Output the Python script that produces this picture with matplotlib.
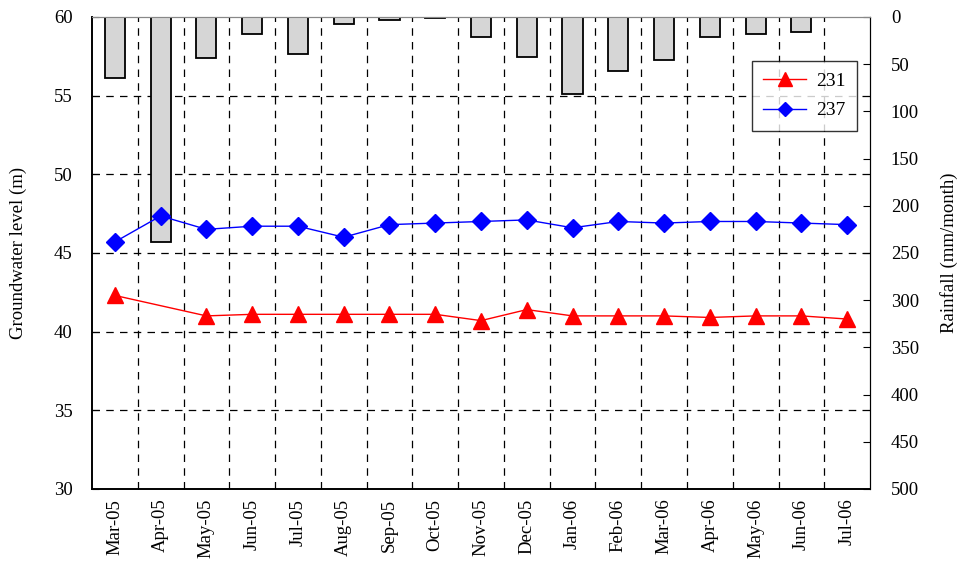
import matplotlib
matplotlib.use("Agg")
import matplotlib.pyplot as plt
from matplotlib.ticker import FixedLocator, MultipleLocator
import numpy as np

plt.rcParams["font.family"] = ["Liberation Serif", "DejaVu Serif"]
plt.rcParams["font.size"] = 13.5

months = ["Mar-05", "Apr-05", "May-05", "Jun-05", "Jul-05", "Aug-05", "Sep-05",
          "Oct-05", "Nov-05", "Dec-05", "Jan-06", "Feb-06", "Mar-06", "Apr-06",
          "May-06", "Jun-06", "Jul-06"]

# monthly rainfall (mm/month)
rainfall = [65, 238, 43, 18, 39, 7, 3, 1, 21, 42, 82, 57, 46, 21, 18, 16, 0]

# groundwater level (m) at the two wells; 231 has no reading for Apr-05
well_231 = [42.3, np.nan, 41.0, 41.1, 41.1, 41.1, 41.1, 41.1, 40.7, 41.4,
            41.0, 41.0, 41.0, 40.9, 41.0, 41.0, 40.8]
well_237 = [45.7, 47.35, 46.5, 46.7, 46.7, 46.0, 46.8, 46.9, 47.0, 47.1,
            46.6, 47.0, 46.9, 47.0, 47.0, 46.9, 46.8]

gw_min, gw_max = 30, 60
rain_max = 500

x = np.arange(len(months))
dash = (0, (6, 5))

fig = plt.figure(figsize=(9.63, 5.64), dpi=100)
ax_rain = fig.add_axes([0.0955, 0.133, 0.808, 0.837])
ax_gw = ax_rain.twinx()

# rainfall bars hang from the top
ax_rain.bar(x, rainfall, width=0.44, color="#d6d6d6", edgecolor="black",
            linewidth=1.3, zorder=3)
ax_rain.set_ylim(rain_max, 0)
ax_rain.set_xlim(-0.5, len(months) - 0.5)
ax_rain.yaxis.set_ticks_position("right")
ax_rain.yaxis.set_label_position("right")
ax_rain.yaxis.set_major_locator(MultipleLocator(50))
ax_rain.set_ylabel("Rainfall (mm/month)")
ax_rain.yaxis.set_label_coords(1.09, 0.5)

# dashed grid: category boundaries and groundwater levels 35..55
ax_rain.set_xticks(x)
ax_rain.set_xticklabels(months, rotation=90)
ax_rain.xaxis.set_minor_locator(FixedLocator(np.arange(0.5, len(months) - 0.5, 1)))
ax_rain.tick_params(axis="x", which="major", length=0, pad=7)
ax_rain.tick_params(axis="x", which="minor", direction="in", length=5)
ax_rain.grid(True, axis="x", which="minor", color="black", linestyle=dash,
             linewidth=0.9, zorder=1)
for level in range(35, 60, 5):
    ax_rain.axhline((gw_max - level) * rain_max / (gw_max - gw_min), color="black",
                    linestyle=dash, linewidth=0.9, zorder=1)
ax_rain.tick_params(axis="y", direction="in", length=5, pad=15)

# groundwater series
xs = x[~np.isnan(well_231)]
ys = np.array(well_231)[~np.isnan(well_231)]
ax_gw.plot(xs, ys, color="red", linewidth=1, marker="^", markersize=12,
           label="231", zorder=4)
ax_gw.plot(x, well_237, color="blue", linewidth=1, marker="D", markersize=9.5,
           label="237", zorder=4)
ax_gw.set_ylim(gw_min, gw_max)
ax_gw.yaxis.set_ticks_position("left")
ax_gw.yaxis.set_label_position("left")
ax_gw.yaxis.set_major_locator(MultipleLocator(5))
ax_gw.tick_params(axis="y", direction="in", length=5, pad=14)
ax_gw.set_ylabel("Groundwater level (m)")
ax_gw.yaxis.set_label_coords(-0.083, 0.5)

for a in (ax_rain, ax_gw):
    a.spines["top"].set_color("#888888")
    a.spines["left"].set_linewidth(1.2)
    a.spines["bottom"].set_linewidth(1.2)

leg = ax_gw.legend(loc="upper right", bbox_to_anchor=(0.983, 0.907), borderaxespad=0,
                   fontsize=14, frameon=True, fancybox=False, edgecolor="black",
                   markerscale=0.8, handlelength=2.2, handletextpad=0.5,
                   borderpad=0.6, labelspacing=0.6)
leg.get_frame().set_linewidth(1)

fig.savefig("out.png", dpi=100)
